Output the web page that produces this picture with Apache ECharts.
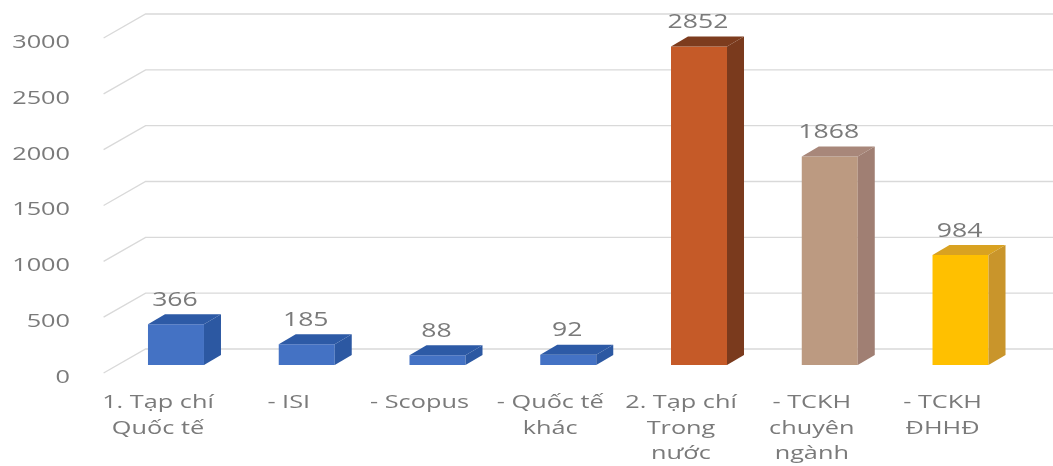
<!DOCTYPE html>
<html>
<head>
<meta charset="utf-8">
<script src="https://cdn.jsdelivr.net/npm/echarts/dist/echarts.min.js"></script>
<style>
  html, body { margin: 0; padding: 0; background: #ffffff; }
  #chart { width: 1053px; height: 466px; }
</style>
</head>
<body>
<div id="chart"></div>
<script>
// Publication counts by journal type
const categories = [
  '1. Tạp chí\nQuốc tế',
  '- ISI',
  '- Scopus',
  '- Quốc tế\nkhác',
  '2. Tạp chí\nTrong\nnước',
  '- TCKH\nchuyên\nngành',
  '- TCKH\nĐHHĐ'
];
const values = [366, 185, 88, 92, 2852, 1868, 984];
const tickValues = [0, 500, 1000, 1500, 2000, 2500, 3000];

// Face colours per bar: front, side, top
const frontColors = ['#4472c4', '#4472c4', '#4472c4', '#4472c4', '#c55a28', '#bc9a81', '#ffc000'];
const sideColors  = ['#2c58a2', '#2c58a2', '#2c58a2', '#2c58a2', '#7a3a1d', '#a07f73', '#c9952b'];
const topColors   = ['#2d5aa6', '#2d5aa6', '#2d5aa6', '#2d5aa6', '#7d3c1e', '#a8877a', '#d9a221'];

const FONT = '"Open Sans", "Noto Sans", sans-serif';
const TEXT_COLOR = '#7a7a7a';
const STRETCH = 1.33;     // horizontal text stretch
const BAR_W = 56;         // front face width
const DEPTH_X = 17, DEPTH_Y = 10;   // bar depth
const WALL_DX = 42, WALL_DY = 24;   // floor depth (front edge to back wall)

const chart = echarts.init(document.getElementById('chart'), null, { renderer: 'canvas' });

function renderGridLine(params, api) {
  const v = api.value(1);
  const y = api.coord([0, v])[1];
  const cs = params.coordSys;
  const fx = cs.x - 7, fy = y + 8;                 // front edge of the floor
  const bx = fx + WALL_DX, by = fy - WALL_DY;      // back wall
  return {
    type: 'group',
    children: [
      {
        type: 'polyline',
        shape: { points: [[fx, fy], [bx, by], [api.getWidth(), by]] },
        style: { stroke: '#d9d9d9', lineWidth: 1.3, fill: null }
      },
      {
        type: 'text',
        x: 70, y: y + 12.5,
        scaleX: STRETCH,
        style: {
          text: String(v), x: 0, y: 0,
          align: 'right', verticalAlign: 'middle',
          fontFamily: FONT, fontSize: 19, fill: TEXT_COLOR
        }
      }
    ]
  };
}

function renderBar(params, api) {
  const i = api.value(0);
  const v = api.value(1);
  const top = api.coord([i, v]);
  const base = api.coord([i, 0]);
  const x0 = top[0] - BAR_W / 2, x1 = x0 + BAR_W;
  const yt = top[1], yb = base[1];
  return {
    type: 'group',
    children: [
      {
        type: 'rect',
        shape: { x: x0, y: yt, width: BAR_W, height: yb - yt },
        style: { fill: frontColors[i] }
      },
      {
        type: 'polygon',
        shape: { points: [[x1, yt], [x1 + DEPTH_X, yt - DEPTH_Y], [x1 + DEPTH_X, yb - DEPTH_Y], [x1, yb]] },
        style: { fill: sideColors[i] }
      },
      {
        type: 'polygon',
        shape: { points: [[x0, yt], [x0 + DEPTH_X, yt - DEPTH_Y], [x1 + DEPTH_X, yt - DEPTH_Y], [x1, yt]] },
        style: { fill: topColors[i] }
      },
      {
        type: 'text',
        x: top[0] - 1, y: yt - DEPTH_Y - 4,
        scaleX: STRETCH,
        style: {
          text: String(values[i]), x: 0, y: 0,
          align: 'center', verticalAlign: 'bottom',
          fontFamily: FONT, fontSize: 20, fill: TEXT_COLOR
        }
      },
      {
        type: 'text',
        x: top[0] - 18, y: yb + 25,
        scaleX: STRETCH,
        style: {
          text: categories[i], x: 0, y: 0,
          align: 'center', verticalAlign: 'top',
          lineHeight: 25.5,
          fontFamily: FONT, fontSize: 19, fill: TEXT_COLOR
        }
      }
    ]
  };
}

chart.setOption({
  animation: false,
  backgroundColor: '#ffffff',
  grid: { left: 110.6, right: 27.1, top: 30, bottom: 101, containLabel: false },
  xAxis: {
    type: 'category',
    data: categories,
    boundaryGap: true,
    show: false
  },
  yAxis: {
    type: 'value',
    min: 0, max: 3000, interval: 500,
    show: false
  },
  series: [
    {
      type: 'custom',
      name: 'grid',
      coordinateSystem: 'cartesian2d',
      renderItem: renderGridLine,
      encode: { x: 0, y: 1 },
      data: tickValues.map(t => [0, t]),
      z: 1,
      silent: true
    },
    {
      type: 'custom',
      name: 'bars',
      coordinateSystem: 'cartesian2d',
      renderItem: renderBar,
      encode: { x: 0, y: 1 },
      data: values.map((v, i) => [i, v]),
      z: 2
    }
  ]
});
</script>
</body>
</html>
